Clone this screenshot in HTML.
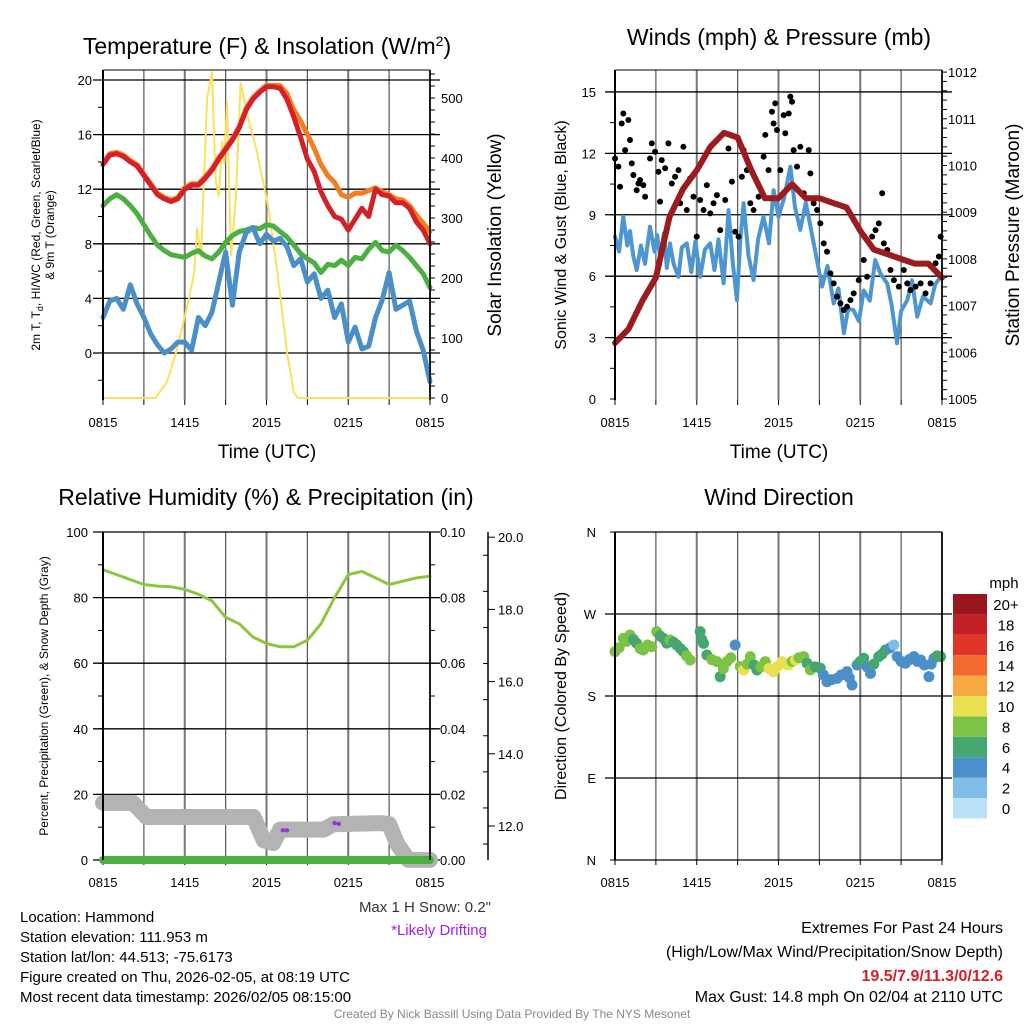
<!DOCTYPE html>
<html><head><meta charset="utf-8"><style>
html,body{margin:0;padding:0;background:#fff;}
svg{display:block;font-family:"Liberation Sans",Arial,sans-serif;}
</style></head><body>
<svg id="fig" width="1024" height="1024" viewBox="0 0 1024 1024" xmlns="http://www.w3.org/2000/svg">
<rect width="1024" height="1024" fill="#fff"/>
<text x="267" y="54" font-size="23" text-anchor="middle">Temperature (F) &amp; Insolation (W/m<tspan dy="-8" font-size="14">2</tspan><tspan dy="8">)</tspan></text>
<text x="779" y="45" font-size="23" text-anchor="middle">Winds (mph) &amp; Pressure (mb)</text>
<text x="266" y="505" font-size="23" text-anchor="middle">Relative Humidity (%) &amp; Precipitation (in)</text>
<text x="779" y="505" font-size="23" text-anchor="middle">Wind Direction</text>
<text x="267" y="458" font-size="19" text-anchor="middle">Time (UTC)</text>
<text x="779" y="458" font-size="19" text-anchor="middle">Time (UTC)</text>
<text transform="translate(40,235) rotate(-90)" font-size="12" text-anchor="middle">2m T, T<tspan dy="3" font-size="9">d</tspan><tspan dy="-3">, HI/WC (Red, Green, Scarlet/Blue)</tspan></text>
<text transform="translate(54,235) rotate(-90)" font-size="12" text-anchor="middle">&amp; 9m T (Orange)</text>
<text transform="translate(501,235) rotate(-90)" font-size="19" text-anchor="middle">Solar Insolation (Yellow)</text>
<text transform="translate(566,235) rotate(-90)" font-size="16" text-anchor="middle">Sonic Wind &amp; Gust (Blue, Black)</text>
<text transform="translate(1019,235) rotate(-90)" font-size="19" text-anchor="middle">Station Pressure (Maroon)</text>
<text transform="translate(48,696) rotate(-90)" font-size="12" text-anchor="middle">Percent, Precipitation (Green), &amp; Snow Depth (Gray)</text>
<text transform="translate(566,696) rotate(-90)" font-size="16" text-anchor="middle">Direction (Colored By Speed)</text>
<g id="info" font-size="15">
<text x="20" y="922">Location: Hammond</text>
<text x="20" y="942">Station elevation: 111.953 m</text>
<text x="20" y="962">Station lat/lon: 44.513; -75.6173</text>
<text x="20" y="982">Figure created on Thu, 2026-02-05, at 08:19 UTC</text>
<text x="20" y="1002">Most recent data timestamp: 2026/02/05 08:15:00</text>
<text x="491" y="912" text-anchor="end" fill="#333">Max 1 H Snow: 0.2"</text>
<text x="487" y="935" text-anchor="end" fill="#a020f0">*Likely Drifting</text>
<text x="1003" y="933" text-anchor="end" font-size="16">Extremes For Past 24 Hours</text>
<text x="1003" y="957" text-anchor="end" font-size="16">(High/Low/Max Wind/Precipitation/Snow Depth)</text>
<text x="1003" y="981" text-anchor="end" font-size="16" font-weight="bold" fill="#d42027">19.5/7.9/11.3/0/12.6</text>
<text x="1003" y="1002" text-anchor="end" font-size="16">Max Gust: 14.8 mph On 02/04 at 2110 UTC</text>
<text x="512" y="1018" text-anchor="middle" font-size="12" fill="#888">Created By Nick Bassill Using Data Provided By The NYS Mesonet</text>
</g>
</svg>
<script>
// ---------- data ----------
const timeTicks = ["0815","1415","2015","0215","0815"];
const hourly = [0,1,2,3,4,5,6,7,8,9,10,11,12,13,14,15,16,17,18,19,20,21,22,23,24];
const tempTime = [0,0.5,1,1.5,2,2.5,3,3.5,4,4.5,5,5.5,6,6.5,7,7.5,8,8.5,9,9.5,10,10.5,11,11.5,12,12.5,13,13.5,14,14.5,15,15.5,16,16.5,17,17.5,18,18.5,19,19.5,20,20.5,21,21.5,22,22.5,23,23.5,24];
const tempRed = [13.8,14.5,14.6,14.4,14.0,13.7,13.0,12.3,11.6,11.3,11.1,11.3,12.0,12.3,12.3,12.8,13.4,14.2,14.9,15.6,16.5,17.8,18.6,19.1,19.5,19.5,19.4,18.6,17.3,15.8,14.2,13.3,11.8,10.8,10.0,9.8,9.0,9.8,10.6,10.0,12.0,11.6,11.5,11.0,11.0,10.6,9.6,9.0,8.0];
const tempOrange = [13.9,14.6,14.7,14.5,14.1,13.8,13.1,12.4,11.7,11.4,11.2,11.4,12.1,12.4,12.4,12.9,13.5,14.3,15.0,15.7,16.6,17.9,18.7,19.2,19.6,19.6,19.6,19.0,17.8,17.0,16.0,15.0,13.8,13.0,12.5,11.6,11.4,11.7,11.7,11.9,12.1,11.8,11.6,11.3,11.2,10.8,10.1,9.5,8.9];
const dewGreen = [10.8,11.3,11.6,11.3,10.8,10.2,9.4,8.6,7.9,7.5,7.2,7.1,7.0,7.3,7.5,7.1,6.9,7.4,8.1,8.6,8.9,9.0,9.2,9.1,9.4,9.3,8.9,8.5,7.9,7.3,6.9,6.6,5.9,6.5,6.4,6.8,6.4,7.0,6.9,7.6,8.1,7.5,7.4,7.9,7.5,7.0,6.4,5.8,4.8];
const chillBlue = [2.6,3.8,4.0,3.2,5.0,3.6,2.6,1.4,0.6,0.0,0.3,0.8,0.8,0.2,2.6,2.0,3.0,5.2,7.4,3.5,7.4,8.8,9.2,8.0,8.7,8.2,8.4,7.8,6.4,6.9,5.2,5.8,4.0,4.6,2.6,3.6,0.8,1.9,0.3,0.5,2.6,3.9,5.9,3.2,3.5,3.8,1.6,0.2,-2.1];
const solarTime = [0,3.85,4.7,5.45,6.2,6.7,6.9,7.2,7.4,7.65,8.0,8.27,8.5,8.76,8.9,9.1,9.4,9.75,10.1,10.6,11.3,12.1,12.8,13.5,14.0,14.3,24];
const solarVal = [0,0,27,83,155,210,283,235,360,500,543,360,338,427,390,493,238,333,525,472,410,322,210,77,10,0,0];
const tempTicks = [0,4,8,12,16,20];
const solarTicks = [0,100,200,300,400,500];

const windTime = [0,0.3,0.61,0.9,1.1,1.35,1.59,1.9,2.2,2.57,2.9,3.1,3.31,3.6,3.8,4.04,4.3,4.66,4.9,5.27,5.6,5.9,6.25,6.6,6.99,7.3,7.6,7.97,8.33,8.65,8.95,9.2,9.44,9.8,10.17,10.5,10.9,11.3,11.64,12.0,12.4,12.87,13.2,13.6,14.0,14.3,14.58,15.2,15.6,16.05,16.4,16.8,17.1,17.5,17.9,18.26,18.7,19.1,19.5,19.98,20.3,20.7,21.0,21.45,21.8,22.18,22.6,23.16,23.5,23.9];
const windVal = [7.93,7.2,8.91,7.5,8.2,6.95,6.3,7.5,6.6,8.42,7.2,8.0,6.95,8.1,6.4,7.6,6.6,5.97,7.4,7.6,6.2,7.7,5.97,7.3,7.6,6.3,7.8,5.65,9.23,6.6,4.83,7.8,9.56,7.0,5.81,7.8,8.91,7.6,10.2,8.9,9.8,11.35,9.4,8.26,9.6,8.6,7.6,5.49,6.5,4.67,5.4,3.21,4.4,4.35,3.8,5.3,4.8,6.79,6.1,5.65,4.6,2.72,4.3,4.83,5.8,4.02,5.0,4.67,5.6,5.97];
const gustTime = [0,0.25,0.37,0.49,0.61,0.74,0.98,1.10,1.23,1.35,1.59,1.72,1.84,2.08,2.21,2.57,2.70,2.94,3.19,3.31,3.43,3.68,3.92,4.17,4.41,4.66,4.78,5.02,5.27,5.51,5.76,6.0,6.25,6.5,6.74,6.99,7.23,7.48,7.72,8.09,8.33,8.58,8.82,9.07,9.31,9.44,9.68,9.93,10.17,10.54,10.91,11.03,11.27,11.52,11.64,11.76,11.89,12.13,12.38,12.5,12.75,12.87,12.99,13.11,13.36,13.6,13.85,14.22,14.34,14.58,14.83,15.07,15.32,15.56,15.81,16.05,16.3,16.54,16.79,17.03,17.28,17.52,17.89,18.26,18.5,18.87,19.12,19.36,19.61,19.73,19.98,20.22,20.47,20.83,21.2,21.45,21.69,22.06,22.43,22.79,23.16,23.53,23.77,23.9];
const gustVal = [11.75,11.35,10.37,13.46,13.95,12.16,13.63,12.65,11.51,10.94,10.2,10.53,10.7,10.45,9.88,11.75,12.49,12.08,11.1,9.64,11.67,11.27,12.49,10.53,10.86,11.18,9.56,12.32,9.23,10.78,9.88,7.93,9.72,9.23,10.45,9.07,9.56,9.96,8.25,9.72,12.24,10.62,8.17,7.93,10.86,12.16,11.18,9.56,9.23,9.88,11.84,12.9,11.18,14.03,13.46,14.44,13.14,11.18,13.87,12.98,13.95,14.77,14.52,12.16,11.35,12.32,10.05,12.16,11.02,9.56,9.23,8.58,7.6,7.2,6.14,5.65,5.0,4.67,4.35,4.51,4.83,5.16,5.81,6.79,5.97,7.93,8.25,8.58,10.05,7.6,7.28,6.3,5.81,5.49,6.3,5.65,5.32,5.49,5.65,5.16,5.65,6.63,6.96,7.93];
const pressure = [1006.2,1006.5,1007.1,1007.6,1008.9,1009.5,1009.9,1010.4,1010.7,1010.6,1009.9,1009.3,1009.3,1009.6,1009.3,1009.3,1009.2,1009.1,1008.6,1008.2,1008.1,1008.0,1007.9,1007.9,1007.6];
const windTicks = [0,3,6,9,12,15];
const pressTicks = [1005,1006,1007,1008,1009,1010,1011,1012];

const rh = [88.5,87,85.5,84,83.5,83.3,82.5,81,79,74,72,68,66,65,65,67,72,80,87,88,86,84,85,86,86.5];
const precip = [0,0,0,0,0,0,0,0,0,0,0,0,0,0,0,0,0,0,0,0,0,0,0,0,0];
const snowTime = [0,2.2,3.2,11.05,11.8,12.5,13.0,16.2,16.9,20.4,21.0,21.6,22.4,24];
const snowDepth = [12.64,12.64,12.25,12.25,11.6,11.53,11.9,11.9,12.05,12.08,12.05,11.5,11.06,11.06];
const driftTime = [13.2,13.5,17.0,17.3];
const driftDepth = [11.88,11.88,12.08,12.06];
const rhTicks = [0,20,40,60,80,100];
const precipTicks = ["0.00","0.02","0.04","0.06","0.08","0.10"];
const snowTicks = [12,14,16,18,20];

const dirTime = [0,0.3,0.61,0.85,1.1,1.35,1.59,1.85,2.08,2.4,2.7,3.06,3.3,3.55,3.8,4.04,4.3,4.53,4.8,5.02,5.25,5.51,6.25,6.37,6.5,6.74,7.1,7.48,7.72,7.95,8.21,8.5,8.82,9.19,9.44,9.7,9.93,10.2,10.42,10.7,11.03,11.3,11.64,11.9,12.25,12.5,12.75,13.0,13.24,13.5,13.85,14.1,14.34,14.7,15.07,15.3,15.56,15.9,16.3,16.6,17.03,17.2,17.4,17.77,18.0,18.26,18.5,18.75,19.0,19.36,19.6,19.85,20.2,20.47,20.71,21.0,21.32,21.6,21.94,22.2,22.43,22.7,23.04,23.2,23.41,23.65,23.9];
const dirDeg = [228.7,233,243.3,240,247,242,237.8,232,230.5,236,234.1,250.6,246,243.3,238,241.5,239,236,232,228.7,224,219.5,250.6,242,237.8,225,220,217.7,201.2,210,217.7,222,236,212.2,208.5,215,223.2,214,208.5,212,217.7,210,206.7,212,217.7,215,214,218,219.5,222,223.2,216,208.5,212,210.4,203,195.7,198,199.4,203,206.7,200,192.1,214,218,221.4,212,204.9,215,223.2,226,230.5,233,236,223.2,218,215.9,220,223.2,218,219.5,214,201.2,215,221.4,224,223.2];
const dirSpeed = [9,9,9,9,9,7,7,9,9,9,9,9,7,7,7,9,7,7,7,7,9,9,7,7,7,7,9,9,7,9,9,9,5,9,11,9,9,7,7,9,9,11,11,11,11,11,11,9,11,9,9,7,9,7,7,5,5,5,5,5,5,5,5,5,7,7,5,5,7,7,7,7,5,3,5,5,5,5,5,5,5,5,5,5,5,7,7];
const speedBins = ["0","2","4","6","8","10","12","14","16","18","20+"];
const speedColors = ["#b9e2f8","#7fbde8","#4a8fc8","#46a670","#7cc244","#e8e04f","#f8a840","#f26a2b","#e03529","#c21f27","#98161c"];
const dirLabels = ["N","E","S","W","N"];

// ---------- helpers ----------
const NS = "http://www.w3.org/2000/svg";
const svg = document.getElementById('fig');
function mk(tag, attrs, parent){
  const e = document.createElementNS(NS, tag);
  for (const k in attrs) e.setAttribute(k, attrs[k]);
  (parent || svg).appendChild(e);
  return e;
}
function addText(x,y,str,size,anchor,fill){
  const t = mk('text',{x:x,y:y,'font-size':size,'text-anchor':anchor,fill:fill||'#000'});
  t.textContent = str;
  return t;
}
function makeX(x0,x1){ return h => x0 + (x1-x0)*h/24; }

function panelFrame(name,x0,x1,top,bot,xs){
  const g = mk('g',{});
  
  
  for (let h=0; h<=24; h+=3){
    const l = mk('line',{x1:xs(h),x2:xs(h),y1:top,y2:bot,stroke:(h%6===0)?'#777':'#555','stroke-width':(h%6===0)?2:1.2},g);
    
    
    const tk = mk('line',{x1:xs(h),x2:xs(h),y1:bot,y2:bot+5,stroke:'#000','stroke-width':1},g);
    
    
  }
  timeTicks.forEach((s,i)=>{
    const t = addText(xs(i*6), bot+27, s, 13, 'middle');
    
    
  });
  return g;
}
function hgrid(name,x0,x1,y){
  const l = mk('line',{x1:x0-10,x2:x1+10,y1:y,y2:y,stroke:'#000','stroke-width':1.3});
  
  
}
function spine(name,x,top,bot,w){
  const l = mk('line',{x1:x,x2:x,y1:top,y2:bot,stroke:'#000','stroke-width':w});
  
  
}
function minorTicks(name,x,y,dir){
  const l = mk('line',{x1:x,x2:x+dir*5,y1:y,y2:y,stroke:'#000','stroke-width':1});
  
  
}
function poly(name, ts, vs, xs, ys, color, w){
  const pts = ts.map((t,i)=> xs(t).toFixed(1)+','+ys(vs[i]).toFixed(1)).join(' ');
  const p = mk('polyline',{points:pts,fill:'none',stroke:color,'stroke-width':w,'stroke-linejoin':'round','stroke-linecap':'round'});
  
  
  return p;
}

// ---------- Panel 1 ----------
(function(){
  const x0=103,x1=430,top=70,bot=400;
  const xs = makeX(x0,x1);
  const yL = v => 353 - v*13.65;
  const yR = v => 398 - v*0.6;
  panelFrame('temp',x0,x1,top,bot,xs);
  tempTicks.forEach(v=>{
    hgrid('temp',x0,x1,yL(v));
    const t = addText(x0-11, yL(v)+5, String(v), 13, 'end');
    
    
  });
  for (let v=-2; v<=20; v+=2) minorTicks('temp-y-minor-tick',x0,yL(v),-1);
  solarTicks.forEach(v=>{
    const t = addText(x1+11, yR(v)+5, String(v), 13, 'start');
    
    
    minorTicks('solar-y-tick',x1,yR(v),1);
  });
  for (let v=0; v<=540; v+=20) minorTicks('solar-y-minor-tick',x1,yR(v),1);
  const tl = mk('line',{x1:x0,x2:x1,y1:top,y2:top,stroke:'#000','stroke-width':1});
  
  
  poly('solar-line', solarTime, solarVal, xs, yR, '#fbe05a', 2);
  poly('dewpoint-line', tempTime, dewGreen, xs, yL, '#4bb040', 5);
  poly('windchill-line', tempTime, chillBlue, xs, yL, '#4a8fc8', 5);
  poly('temp-9m-line', tempTime, tempOrange, xs, yL, '#f47d20', 5);
  poly('temp-2m-line', tempTime, tempRed, xs, yL, '#d42027', 5);
  spine('temp-left-spine',x0,top,bot,2);
  spine('temp-right-spine',x1,top,bot,1.5);
})();

// ---------- Panel 2 ----------
(function(){
  const x0=615,x1=942,top=70,bot=400;
  const xs = makeX(x0,x1);
  const yL = v => 399 - v*20.47;
  const yR = p => 399 - (p-1005)*46.7;
  panelFrame('wind',x0,x1,top,bot,xs);
  windTicks.forEach(v=>{
    if (v>0) hgrid('wind',x0,x1,yL(v));
    const t = addText(x0-19, yL(v)+5, String(v), 13, 'end');
    
    
  });
  for (let v=0; v<=15.5; v+=1.5) minorTicks('wind-y-minor-tick',x0,yL(v),-1);
  pressTicks.forEach(p=>{
    const t = addText(x1+6, yR(p)+5, String(p), 13, 'start');
    
    
  });
  for (let p=1005; p<=1012.05; p+=0.2) minorTicks('pressure-y-minor-tick',x1,yR(p),1);
  const tl = mk('line',{x1:x0,x2:x1,y1:top,y2:top,stroke:'#000','stroke-width':1});
  
  
  poly('wind-speed-line', windTime, windVal, xs, yL, '#4e96d2', 4);
  gustTime.forEach((t,i)=>{
    const c = mk('circle',{cx:xs(t),cy:yL(gustVal[i]),r:3,fill:'#000'});
    
    
  });
  poly('pressure-line', hourly, pressure, xs, yR, '#9b1b1e', 6);
  spine('wind-left-spine',x0,top,bot,2);
  spine('wind-right-spine',x1,top,bot,1.5);
})();

// ---------- Panel 3 ----------
(function(){
  const x0=103,x1=430,top=532,bot=860;
  const xs = makeX(x0,x1);
  const yL = v => 860 - v*3.28;
  const yS = d => 826 - (d-12)*36.1;
  panelFrame('rh',x0,x1,top,bot,xs);
  rhTicks.forEach((v,i)=>{
    hgrid('rh',x0,x1,yL(v));
    const t = addText(x0-15, yL(v)+5, String(v), 13, 'end');
    
    
    const p = addText(x1+10, yL(v)+5, precipTicks[i], 13, 'start');
    
    
  });
  for (let v=0; v<=100; v+=10) { minorTicks('rh-y-minor-tick',x0,yL(v),-1); minorTicks('precip-y-minor-tick',x1,yL(v),1); }
  spine('snow-axis-spine',488,532,860,1.5);
  snowTicks.forEach(d=>{
    const t = addText(498, yS(d)+5, d.toFixed(1), 13, 'start');
    
    
    const l = mk('line',{x1:488,x2:495,y1:yS(d),y2:yS(d),stroke:'#000','stroke-width':1});
    
    
  });
  for (let d=11.5; d<=20; d+=1) minorTicks('snow-y-minor-tick',488,yS(d),-1);
  poly('rh-line', hourly, rh, xs, yL, '#8cc63f', 3);
  poly('snow-depth-line', snowTime, snowDepth, xs, yS, '#b3b3b3', 16);
  driftTime.forEach((t,i)=>{
    const c = mk('circle',{cx:xs(t),cy:yS(driftDepth[i]),r:2.2,fill:'#9b30e0'});
    
    
  });
  poly('precip-line', hourly, precip, xs, v=>yL(v*1000), '#4bb040', 8);
  spine('rh-left-spine',x0,top,bot,2);
  spine('rh-right-spine',x1,top,bot,1.5);
})();

// ---------- Panel 4 ----------
(function(){
  const x0=615,x1=942,top=532,bot=860;
  const xs = makeX(x0,x1);
  const yD = d => 860 - d*0.9111;
  panelFrame('dir',x0,x1,top,bot,xs);
  dirLabels.forEach((s,i)=>{
    const d = i*90;
    if (i>0 && i<4) hgrid('dir',x0,x1,yD(d));
    minorTicks('dir-y-tick',x0,yD(d),-1);
    const t = addText(x0-19, yD(d)+5, s, 13, 'end');
    
    
  });
  const tl = mk('line',{x1:x0,x2:x1,y1:top,y2:top,stroke:'#000','stroke-width':1.3});
  
  
  const bl = mk('line',{x1:x0,x2:x1,y1:bot,y2:bot,stroke:'#000','stroke-width':1.3});
  
  
  dirTime.forEach((t,i)=>{
    const bin = Math.min(10, Math.floor(dirSpeed[i]/2));
    const c = mk('circle',{cx:xs(t),cy:yD(dirDeg[i]),r:5.5,fill:speedColors[bin]});
    
    
  });
  spine('dir-left-spine',x0,top,bot,2);
  spine('dir-right-spine',x1,top,bot,1.5);
  const u = addText(1004, 588, 'mph', 15, 'middle');
  
  
  speedBins.forEach((s,i)=>{
    const k = speedBins.length-1-i;
    const y = 594 + k*20.4;
    const r = mk('rect',{x:953,y:y,width:34,height:20.4,fill:speedColors[i]});
    
    
    const t = addText(1006, y+16, s, 15, 'middle');
    
    
  });
})();
</script>
</body></html>
